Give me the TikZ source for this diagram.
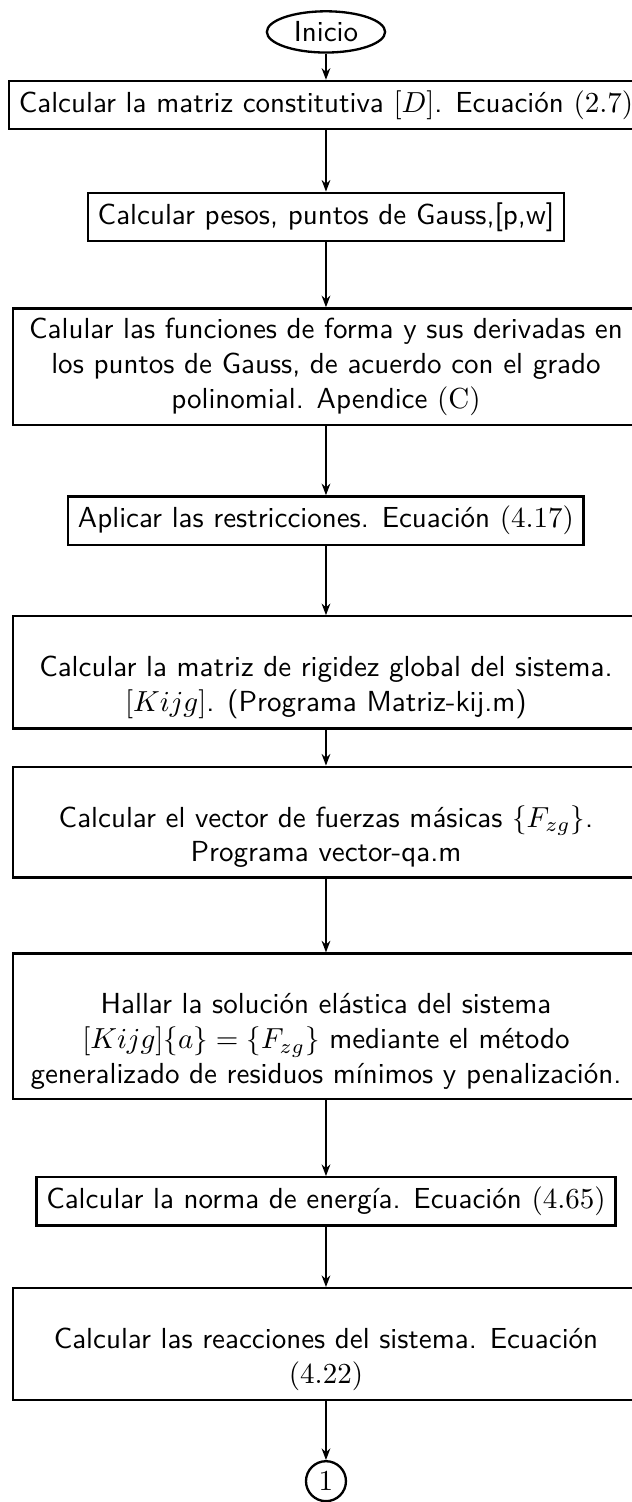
\documentclass[tikz,border=0pt]{standalone}
\usepackage{amsmath}
\usepackage{tikz}
\usetikzlibrary{arrows.meta,positioning,shapes.geometric}
\newcommand{\topgap}{\rule{0pt}{17.5pt}}
\tikzset{
	flow/.style={draw,thick,font=\sffamily,align=flush center},
	flow box/.style={flow,rectangle,inner sep=3.33pt},
	flow wide/.style={flow box,text width=209pt},
	flow start/.style={flow,ellipse,inner xsep=3.33pt,inner ysep=1.5pt},
	flow link/.style={draw,thick,circle,inner sep=2pt},
	flow arrow/.style={semithick,-{Stealth[length=4pt,width=3pt]}}
}

\begin{document}
\begin{tikzpicture}[node distance=20pt]
  \useasboundingbox (0,0) rectangle (217.9pt,-517.9pt);
  \node[flow start] (Ini) at (112.4pt,-11pt) {Inicio};
  \node[flow box, below=9pt of Ini] (S1) {Calcular la matriz constitutiva $[D]$. Ecuación $(2.7)$};
  \node[flow box, below=21.1pt of S1] (S2) {Calcular pesos, puntos de Gauss,[p,w]};
  \node[flow wide, below=22.4pt of S2] (S3) {Calular las funciones de forma y sus derivadas en\\ los puntos de Gauss, de acuerdo con el grado\\ polinomial. Apendice $(\mathrm{C})$};
  \node[flow box, below=23.8pt of S3] (S4) {Aplicar las restricciones. Ecuación $(4.17)$};
  \node[flow wide, below=23.9pt of S4] (S5) {\topgap Calcular la matriz de rigidez global del sistema.\\ $[Kijg]$. (Programa Matriz-kij.m)};
  \node[flow wide, below=12.4pt of S5] (S6) {\topgap Calcular el vector de fuerzas másicas $\{F_{zg}\}$.\\ Programa vector-qa.m};
  \node[flow wide, below=25.4pt of S6] (S7) {\topgap Hallar la solución elástica del sistema\\ $[Kijg]\{a\}=\{F_{zg}\}$ mediante el método\\ generalizado de residuos mínimos y penalización.};
  \node[flow box, below=26.1pt of S7] (S8) {Calcular la norma de energía. Ecuación $(4.65)$};
  \node[flow wide, below=20.8pt of S8] (S9) {\topgap Calcular las reacciones del sistema. Ecuación\\ $(4.22)$};
  \node[flow link, below=20.2pt of S9] (C1) {$1$};
  \draw[flow arrow] (Ini) -- (S1);
  \draw[flow arrow] (S1) -- (S2);
  \draw[flow arrow] (S2) -- (S3);
  \draw[flow arrow] (S3) -- (S4);
  \draw[flow arrow] (S4) -- (S5);
  \draw[flow arrow] (S5) -- (S6);
  \draw[flow arrow] (S6) -- (S7);
  \draw[flow arrow] (S7) -- (S8);
  \draw[flow arrow] (S8) -- (S9);
  \draw[flow arrow] (S9) -- (C1);
\end{tikzpicture}
\end{document}
